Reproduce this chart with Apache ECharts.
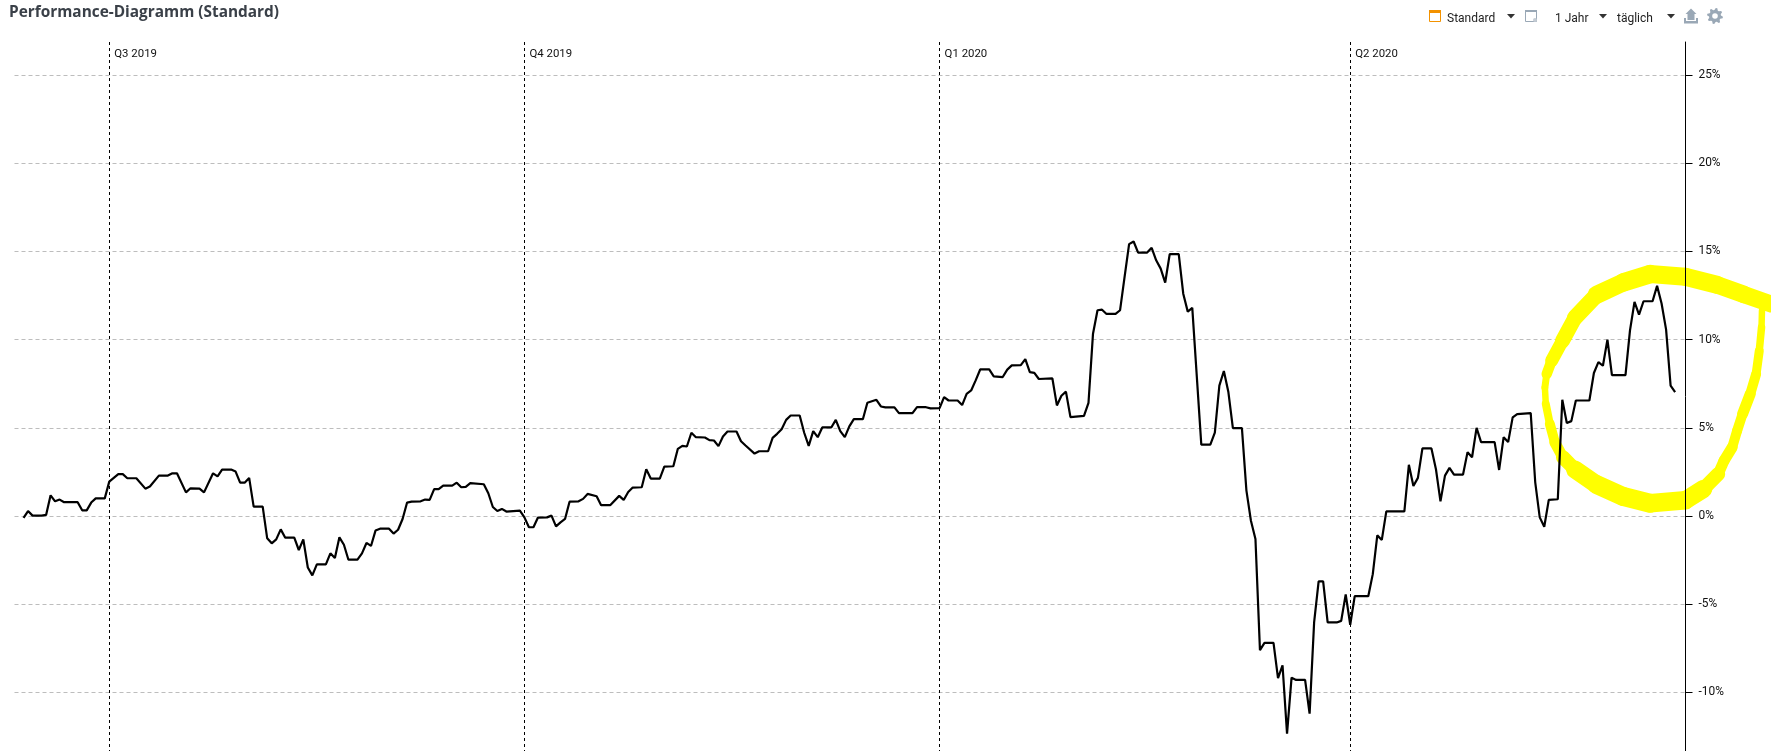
<!DOCTYPE html>
<html>
<head>
<meta charset="utf-8">
<title>Performance-Diagramm</title>
<style>html,body{margin:0;padding:0;background:#fff}#chart{width:1771px;height:751px}</style>
<script src="https://cdn.jsdelivr.net/npm/echarts@6/dist/echarts.min.js"></script>
</head>
<body>
<div id="chart"></div>
<script>
// Days counted from 1 July 2019; only days where the line visibly bends are listed.
var perfDays = [-19,-18,-17,-15,-14,-13,-12,-11,-10,-7,-6,-5,-4,-3,-1,0,2,3,4,6,8,9,11,13,14,15,17,18,20,21,23,24,25,27,28,29,30,31,32,34,35,36,37,38,39,41,42,43,44,45,46,48,49,50,51,52,53,55,56,57,58,59,60,62,63,64,65,66,67,69,70,71,72,73,74,76,77,78,79,80,83,84,85,86,87,88,91,92,93,94,95,97,98,99,100,101,102,104,105,106,108,109,111,113,114,115,116,118,119,120,122,123,125,126,127,128,129,130,132,133,134,135,136,137,139,140,141,143,144,146,147,148,149,150,151,153,154,155,156,157,158,160,161,162,163,164,165,167,168,170,171,172,174,175,178,179,181,182,184,185,186,188,189,190,191,192,193,195,196,198,199,200,202,203,204,205,206,209,210,211,212,213,216,217,218,219,220,221,223,224,225,226,227,228,230,231,232,233,234,235,237,238,239,240,242,244,245,246,247,248,249,251,252,253,254,255,256,258,259,260,261,262,263,265,266,267,268,269,270,272,273,274,275,276,279,280,281,282,283,287,288,289,290,291,293,294,295,296,297,298,300,301,302,303,304,307,308,309,310,311,312,315,316,317,318,319,321,322,323,324,325,328,329,330,331,332,333,336,337,338,339,340,342,343,344,345,346,347];
var perfValues = [-0.11,0.28,0.02,0.02,0.06,1.17,0.83,0.93,0.78,0.78,0.32,0.32,0.76,1.0,1.0,1.95,2.37,2.37,2.14,2.14,1.55,1.67,2.29,2.29,2.42,2.42,1.34,1.57,1.55,1.34,2.42,2.25,2.63,2.63,2.52,1.89,1.89,2.16,0.53,0.53,-1.27,-1.55,-1.33,-0.76,-1.23,-1.23,-1.93,-1.33,-2.92,-3.37,-2.75,-2.75,-2.12,-2.39,-1.21,-1.63,-2.48,-2.48,-2.12,-1.53,-1.70,-0.83,-0.72,-0.72,-1.0,-0.78,-0.17,0.76,0.81,0.83,0.93,0.91,1.52,1.52,1.72,1.72,1.89,1.63,1.65,1.86,1.80,1.29,0.51,0.28,0.40,0.25,0.30,-0.08,-0.64,-0.64,-0.09,-0.08,0.02,-0.59,-0.36,-0.17,0.81,0.83,0.97,1.25,1.12,0.61,0.61,1.14,0.91,1.36,1.61,1.63,2.65,2.12,2.12,2.80,2.82,3.81,3.98,3.94,4.72,4.47,4.45,4.30,4.28,3.96,4.51,4.79,4.79,4.24,4.0,3.54,3.67,3.67,4.43,4.66,4.92,5.45,5.70,5.70,4.72,3.98,4.81,4.47,5.02,5.02,5.45,4.81,4.47,5.08,5.49,5.49,6.42,6.59,6.21,6.16,6.16,5.83,5.83,6.17,6.17,6.10,6.12,6.74,6.55,6.55,6.29,6.93,7.12,7.69,8.31,8.31,7.92,7.88,8.30,8.54,8.56,8.90,8.16,8.12,7.77,7.80,6.27,6.82,7.05,5.61,5.68,6.42,10.34,11.67,11.70,11.46,11.46,11.67,13.56,15.42,15.57,14.94,14.94,15.21,14.5,14.03,13.24,14.85,14.85,12.61,11.59,11.80,4.05,4.05,4.73,7.39,8.22,7.03,4.98,4.98,1.44,-0.27,-1.31,-7.61,-7.2,-7.2,-9.2,-8.47,-12.35,-9.17,-9.3,-9.3,-11.21,-6.04,-3.71,-3.71,-6.04,-6.04,-5.95,-4.45,-6.17,-4.55,-4.55,-3.3,-1.10,-1.36,0.26,0.26,2.90,1.70,2.16,3.83,3.83,2.65,0.83,2.29,2.73,2.35,2.35,3.62,3.33,5.0,4.19,4.19,2.61,4.47,4.19,5.59,5.78,5.83,1.91,-0.08,-0.61,0.91,0.95,6.59,5.27,5.38,6.55,6.55,8.11,8.73,8.52,10.0,7.99,7.99,10.53,12.14,11.42,12.18,12.18,13.05,12.05,10.57,7.39,7.03];

var quarterDays = [0, 92, 184, 275];
var quarterLabels = ['Q3 2019', 'Q4 2019', 'Q1 2020', 'Q2 2020'];
var percentTicks = [-10, -5, 0, 5, 10, 15, 20, 25];
var toolbarLabels = ['Standard', '1 Jahr', 'täglich'];

// Yellow hand-drawn circle, in the same day / percent units as the line.
var ringDays = [368.2,362.1,356.2,349.2,341.4,335.5,329.6,324.8,322,319.6,318.5,318.1,318.3,319.2,320.3,322.1,324.8,329.6,335.5,341.4,349.2,353.2,356.5,357.8,359.6,360.7,361.9,363.6,364.9,365.6,366.1,366.2];
var ringValues = [12.02,12.57,13.11,13.57,13.72,13.25,12.55,11.26,9.94,8.81,8.05,7.29,6.35,5.22,4.18,3.33,2.63,1.78,1.10,0.72,0.89,1.53,2.38,3.14,3.89,4.84,5.78,6.92,8.05,9.37,10.7,11.64];
var ringStrokeWidths = [17,17.5,18,18,18.5,18,16,15,13,10.5,7,6.5,8,10,11,14,18,19,19,18.5,18,14,11,11,10,10,11,10,9,7.5,6.5];

var font = '"Open Sans", "Noto Sans", sans-serif';
var labelFont = 'Roboto, "Open Sans", sans-serif';
var perfData = perfDays.map(function (d, i) { return [d, perfValues[i]]; });

var ringParts = ringStrokeWidths.map(function (w, i) {
  return {
    name: 'Markierung ' + (i + 1), type: 'line', xAxisIndex: 1, yAxisIndex: 1, z: 2, silent: true,
    data: [[ringDays[i], ringValues[i]], [ringDays[i + 1], ringValues[i + 1]]],
    showSymbol: false, symbol: 'none', animation: false,
    lineStyle: { color: '#ffff00', width: w, cap: 'round', join: 'round' }
  };
});

function gearPoints(cx, cy, rOut, rIn, teeth) {
  var pts = [], n = teeth * 4;
  for (var i = 0; i < n; i++) {
    var a = (i + 0.5) / n * Math.PI * 2;
    var r = (i % 4 < 2) ? rOut : rIn;
    pts.push([cx + r * Math.cos(a), cy + r * Math.sin(a)]);
  }
  return pts;
}
function tri(x, y) {
  return { type: 'polygon', shape: { points: [[x - 4, y - 2], [x + 4, y - 2], [x, y + 2.5]] }, style: { fill: '#333' }, silent: true };
}
function toolText(s, x) {
  return { type: 'text', x: x, y: 18.5, style: { text: s, fill: '#222', font: '12px ' + labelFont, verticalAlign: 'middle' }, silent: true };
}
var toolGray = '#9aa8b6';
var toolbar = [
  { type: 'rect', shape: { x: 1429.5, y: 10.5, width: 11, height: 11 }, style: { fill: '#fff', stroke: '#f39200', lineWidth: 1 } },
  { type: 'rect', shape: { x: 1429, y: 10, width: 12, height: 3 }, style: { fill: '#f39200' } },
  toolText(toolbarLabels[0], 1447), tri(1511, 16),
  { type: 'rect', shape: { x: 1525.5, y: 10.5, width: 11, height: 11 }, style: { fill: '#fff', stroke: toolGray, lineWidth: 1 } },
  { type: 'rect', shape: { x: 1525, y: 10, width: 12, height: 2 }, style: { fill: toolGray } },
  { type: 'circle', shape: { cx: 1535, cy: 20, r: 2 }, style: { fill: '#c4ccd4' } },
  toolText(toolbarLabels[1], 1555), tri(1603, 16),
  toolText(toolbarLabels[2], 1617), tri(1671, 16),
  { type: 'polygon', shape: { points: [[1691, 8.5], [1696.5, 14], [1694.5, 14], [1694.5, 20], [1687.5, 20], [1687.5, 14], [1685.5, 14]] }, style: { fill: toolGray } },
  { type: 'polygon', shape: { points: [[1684, 18], [1686, 18], [1686, 21], [1696, 21], [1696, 18], [1698, 18], [1698, 23.5], [1684, 23.5]] }, style: { fill: toolGray } },
  { type: 'polygon', shape: { points: gearPoints(1715, 16, 8, 6, 8) }, style: { fill: toolGray } },
  { type: 'circle', shape: { cx: 1715, cy: 16, r: 2.8 }, style: { fill: '#fff' } }
];

var chart = echarts.init(document.getElementById('chart'), null, { renderer: 'canvas', width: 1771, height: 751 });
chart.setOption({
  backgroundColor: '#fff',
  animation: false,
  title: {
    text: 'Performance-Diagramm (Standard)', left: 9, top: 5, padding: 0,
    textStyle: { fontFamily: font, fontSize: 15.4, fontWeight: 'bold', color: '#3a4048' }
  },
  grid: [
    { left: 14.5, top: 42, width: 1671, height: 709, containLabel: false },
    { left: 14.5, top: 42, width: 1756.5, height: 709, containLabel: false },
    { left: 14.5, top: 42, width: 1671, height: 709, containLabel: false }
  ],
  xAxis: [{
    type: 'value', position: 'top', min: -21, max: 349.3,
    axisLine: { show: false },
    axisTick: { show: false, customValues: quarterDays },
    axisLabel: {
      customValues: quarterDays, inside: true, margin: 7, align: 'left',
      padding: [0, 0, 0, 5], color: '#111', fontFamily: labelFont, fontSize: 11.4,
      formatter: function (v) { return quarterLabels[quarterDays.indexOf(v)]; }
    },
    splitLine: { show: true, lineStyle: { color: '#000', width: 1, type: [3, 3] } }
  }, {
    // Same day scale as the main axis, carried on past the right-hand axis for the yellow mark.
    type: 'value', gridIndex: 1, show: false, min: -21, max: 368.2
  }, {
    type: 'value', gridIndex: 2, show: false, min: -21, max: 349.3
  }],
  yAxis: [{
    type: 'value', position: 'right', min: -13.331, max: 26.884, z: 3,
    axisLine: { show: true, onZero: false, lineStyle: { color: '#000', width: 1 } },
    axisTick: { show: true, length: 7, customValues: percentTicks, lineStyle: { color: '#000', width: 1 } },
    axisLabel: {
      customValues: percentTicks, margin: 13, align: 'left', color: '#111',
      fontFamily: labelFont, fontSize: 11.9,
      formatter: function (v) { return v + '%'; }
    },
    splitLine: { show: false }
  }, {
    type: 'value', gridIndex: 1, show: false, min: -13.331, max: 26.884
  }, {
    // Dashed grid lines sit under the yellow mark, the axis line above it.
    type: 'value', gridIndex: 2, position: 'right', min: -13.331, max: 26.884, z: 0,
    axisLine: { show: false },
    axisTick: { show: false, customValues: percentTicks },
    axisLabel: { show: false, customValues: percentTicks },
    splitLine: { show: true, lineStyle: { color: '#bdbdbd', width: 1, type: [4, 3] } }
  }],
  series: ringParts.concat([{
    name: 'Performance', type: 'line', data: perfData, z: 4,
    showSymbol: false, symbol: 'none', animation: false,
    lineStyle: { color: '#000', width: 2.2 }
  }]),
  graphic: { elements: toolbar }
});
</script>
</body>
</html>
